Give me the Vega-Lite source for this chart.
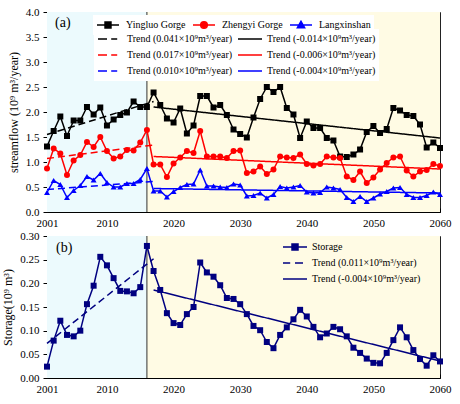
{
  "$schema": "https://vega.github.io/schema/vega-lite/v6.json",
  "padding": {"left": 1, "top": 5, "right": 5, "bottom": 5},
  "background": "white",
  "config": {
    "font": "Liberation Serif",
    "view": {"stroke": "#222", "strokeWidth": 1},
    "axis": {"labelFont": "Liberation Serif", "labelFontSize": 11, "labelColor": "#000", "titleFont": "Liberation Serif", "titleFontSize": 12, "titleFontWeight": "normal", "titleColor": "#000", "domainColor": "#000", "tickColor": "#000", "grid": false, "tickSize": 4, "labelPadding": 4},
    "legend": {"labelFont": "Liberation Serif", "labelFontSize": 10, "labelColor": "#000", "title": null},
    "title": {"font": "Liberation Serif", "fontSize": 14, "fontWeight": "normal", "color": "#000"}
  },
  "datasets": {
    "periods": [
      {"period": "hist", "start": 2001, "end": 2016},
      {"period": "future", "start": 2016, "end": 2060}
    ],
    "flow": [
      {"year": 2001, "Yingluo Gorge": 1.31, "Zhengyi Gorge": 0.87, "Langxinshan": 0.39},
      {"year": 2002, "Yingluo Gorge": 1.62, "Zhengyi Gorge": 1.27, "Langxinshan": 0.63},
      {"year": 2003, "Yingluo Gorge": 1.91, "Zhengyi Gorge": 1.17, "Langxinshan": 0.55},
      {"year": 2004, "Yingluo Gorge": 1.52, "Zhengyi Gorge": 0.74, "Langxinshan": 0.29},
      {"year": 2005, "Yingluo Gorge": 1.83, "Zhengyi Gorge": 1.03, "Langxinshan": 0.43},
      {"year": 2006, "Yingluo Gorge": 1.83, "Zhengyi Gorge": 1.14, "Langxinshan": 0.53},
      {"year": 2007, "Yingluo Gorge": 2.10, "Zhengyi Gorge": 1.40, "Langxinshan": 0.71},
      {"year": 2008, "Yingluo Gorge": 1.95, "Zhengyi Gorge": 1.30, "Langxinshan": 0.64},
      {"year": 2009, "Yingluo Gorge": 2.09, "Zhengyi Gorge": 1.50, "Langxinshan": 0.77},
      {"year": 2010, "Yingluo Gorge": 1.73, "Zhengyi Gorge": 1.22, "Langxinshan": 0.59},
      {"year": 2011, "Yingluo Gorge": 1.85, "Zhengyi Gorge": 1.07, "Langxinshan": 0.50},
      {"year": 2012, "Yingluo Gorge": 1.94, "Zhengyi Gorge": 1.11, "Langxinshan": 0.50},
      {"year": 2013, "Yingluo Gorge": 1.99, "Zhengyi Gorge": 1.24, "Langxinshan": 0.57},
      {"year": 2014, "Yingluo Gorge": 2.21, "Zhengyi Gorge": 1.23, "Langxinshan": 0.57},
      {"year": 2015, "Yingluo Gorge": 2.10, "Zhengyi Gorge": 1.39, "Langxinshan": 0.65},
      {"year": 2016, "Yingluo Gorge": 2.10, "Zhengyi Gorge": 1.64, "Langxinshan": 0.87},
      {"year": 2017, "Yingluo Gorge": 2.39, "Zhengyi Gorge": 0.95, "Langxinshan": 0.42},
      {"year": 2018, "Yingluo Gorge": 2.14, "Zhengyi Gorge": 0.95, "Langxinshan": 0.42},
      {"year": 2019, "Yingluo Gorge": 1.87, "Zhengyi Gorge": 0.70, "Langxinshan": 0.30},
      {"year": 2020, "Yingluo Gorge": 1.79, "Zhengyi Gorge": 0.97, "Langxinshan": 0.41},
      {"year": 2021, "Yingluo Gorge": 2.07, "Zhengyi Gorge": 1.09, "Langxinshan": 0.49},
      {"year": 2022, "Yingluo Gorge": 1.57, "Zhengyi Gorge": 1.22, "Langxinshan": 0.55},
      {"year": 2023, "Yingluo Gorge": 1.73, "Zhengyi Gorge": 1.18, "Langxinshan": 0.56},
      {"year": 2024, "Yingluo Gorge": 2.32, "Zhengyi Gorge": 1.62, "Langxinshan": 0.84},
      {"year": 2025, "Yingluo Gorge": 2.32, "Zhengyi Gorge": 1.11, "Langxinshan": 0.52},
      {"year": 2026, "Yingluo Gorge": 2.09, "Zhengyi Gorge": 1.11, "Langxinshan": 0.52},
      {"year": 2027, "Yingluo Gorge": 2.14, "Zhengyi Gorge": 1.11, "Langxinshan": 0.50},
      {"year": 2028, "Yingluo Gorge": 1.94, "Zhengyi Gorge": 1.08, "Langxinshan": 0.49},
      {"year": 2029, "Yingluo Gorge": 1.65, "Zhengyi Gorge": 1.22, "Langxinshan": 0.56},
      {"year": 2030, "Yingluo Gorge": 1.56, "Zhengyi Gorge": 1.23, "Langxinshan": 0.54},
      {"year": 2031, "Yingluo Gorge": 1.49, "Zhengyi Gorge": 0.78, "Langxinshan": 0.32},
      {"year": 2032, "Yingluo Gorge": 1.89, "Zhengyi Gorge": 0.81, "Langxinshan": 0.33},
      {"year": 2033, "Yingluo Gorge": 2.26, "Zhengyi Gorge": 0.91, "Langxinshan": 0.38},
      {"year": 2034, "Yingluo Gorge": 2.50, "Zhengyi Gorge": 0.76, "Langxinshan": 0.28},
      {"year": 2035, "Yingluo Gorge": 2.40, "Zhengyi Gorge": 0.85, "Langxinshan": 0.35},
      {"year": 2036, "Yingluo Gorge": 2.50, "Zhengyi Gorge": 1.11, "Langxinshan": 0.51},
      {"year": 2037, "Yingluo Gorge": 2.08, "Zhengyi Gorge": 1.09, "Langxinshan": 0.48},
      {"year": 2038, "Yingluo Gorge": 1.95, "Zhengyi Gorge": 1.08, "Langxinshan": 0.50},
      {"year": 2039, "Yingluo Gorge": 1.48, "Zhengyi Gorge": 1.15, "Langxinshan": 0.53},
      {"year": 2040, "Yingluo Gorge": 1.81, "Zhengyi Gorge": 0.96, "Langxinshan": 0.40},
      {"year": 2041, "Yingluo Gorge": 1.68, "Zhengyi Gorge": 0.93, "Langxinshan": 0.38},
      {"year": 2042, "Yingluo Gorge": 1.68, "Zhengyi Gorge": 0.96, "Langxinshan": 0.39},
      {"year": 2043, "Yingluo Gorge": 1.48, "Zhengyi Gorge": 1.11, "Langxinshan": 0.50},
      {"year": 2044, "Yingluo Gorge": 1.43, "Zhengyi Gorge": 1.09, "Langxinshan": 0.48},
      {"year": 2045, "Yingluo Gorge": 1.11, "Zhengyi Gorge": 1.08, "Langxinshan": 0.45},
      {"year": 2046, "Yingluo Gorge": 1.10, "Zhengyi Gorge": 0.71, "Langxinshan": 0.29},
      {"year": 2047, "Yingluo Gorge": 1.15, "Zhengyi Gorge": 0.64, "Langxinshan": 0.21},
      {"year": 2048, "Yingluo Gorge": 1.25, "Zhengyi Gorge": 0.81, "Langxinshan": 0.31},
      {"year": 2049, "Yingluo Gorge": 1.60, "Zhengyi Gorge": 0.58, "Langxinshan": 0.21},
      {"year": 2050, "Yingluo Gorge": 1.72, "Zhengyi Gorge": 0.69, "Langxinshan": 0.28},
      {"year": 2051, "Yingluo Gorge": 1.58, "Zhengyi Gorge": 0.85, "Langxinshan": 0.36},
      {"year": 2052, "Yingluo Gorge": 1.66, "Zhengyi Gorge": 0.98, "Langxinshan": 0.41},
      {"year": 2053, "Yingluo Gorge": 2.08, "Zhengyi Gorge": 1.09, "Langxinshan": 0.48},
      {"year": 2054, "Yingluo Gorge": 2.03, "Zhengyi Gorge": 1.11, "Langxinshan": 0.49},
      {"year": 2055, "Yingluo Gorge": 1.94, "Zhengyi Gorge": 0.83, "Langxinshan": 0.35},
      {"year": 2056, "Yingluo Gorge": 1.92, "Zhengyi Gorge": 0.71, "Langxinshan": 0.29},
      {"year": 2057, "Yingluo Gorge": 1.75, "Zhengyi Gorge": 0.81, "Langxinshan": 0.29},
      {"year": 2058, "Yingluo Gorge": 1.29, "Zhengyi Gorge": 0.84, "Langxinshan": 0.33},
      {"year": 2059, "Yingluo Gorge": 1.39, "Zhengyi Gorge": 0.96, "Langxinshan": 0.40},
      {"year": 2060, "Yingluo Gorge": 1.28, "Zhengyi Gorge": 0.92, "Langxinshan": 0.35}
    ],
    "storage": [
      {"year": 2001, "Storage": 0.024}, {"year": 2002, "Storage": 0.079}, {"year": 2003, "Storage": 0.121},
      {"year": 2004, "Storage": 0.091}, {"year": 2005, "Storage": 0.088}, {"year": 2006, "Storage": 0.100},
      {"year": 2007, "Storage": 0.156}, {"year": 2008, "Storage": 0.195}, {"year": 2009, "Storage": 0.256},
      {"year": 2010, "Storage": 0.238}, {"year": 2011, "Storage": 0.211}, {"year": 2012, "Storage": 0.184},
      {"year": 2013, "Storage": 0.183}, {"year": 2014, "Storage": 0.179}, {"year": 2015, "Storage": 0.192},
      {"year": 2016, "Storage": 0.279}, {"year": 2017, "Storage": 0.226}, {"year": 2018, "Storage": 0.186},
      {"year": 2019, "Storage": 0.137}, {"year": 2020, "Storage": 0.116}, {"year": 2021, "Storage": 0.112},
      {"year": 2022, "Storage": 0.135}, {"year": 2023, "Storage": 0.150}, {"year": 2024, "Storage": 0.244},
      {"year": 2025, "Storage": 0.223}, {"year": 2026, "Storage": 0.214}, {"year": 2027, "Storage": 0.196},
      {"year": 2028, "Storage": 0.169}, {"year": 2029, "Storage": 0.167}, {"year": 2030, "Storage": 0.156},
      {"year": 2031, "Storage": 0.135}, {"year": 2032, "Storage": 0.110}, {"year": 2033, "Storage": 0.101},
      {"year": 2034, "Storage": 0.076}, {"year": 2035, "Storage": 0.063}, {"year": 2036, "Storage": 0.091},
      {"year": 2037, "Storage": 0.107}, {"year": 2038, "Storage": 0.124}, {"year": 2039, "Storage": 0.144},
      {"year": 2040, "Storage": 0.130}, {"year": 2041, "Storage": 0.108}, {"year": 2042, "Storage": 0.086},
      {"year": 2043, "Storage": 0.094}, {"year": 2044, "Storage": 0.108}, {"year": 2045, "Storage": 0.103},
      {"year": 2046, "Storage": 0.088}, {"year": 2047, "Storage": 0.064}, {"year": 2048, "Storage": 0.053},
      {"year": 2049, "Storage": 0.041}, {"year": 2050, "Storage": 0.032}, {"year": 2051, "Storage": 0.031},
      {"year": 2052, "Storage": 0.053}, {"year": 2053, "Storage": 0.080}, {"year": 2054, "Storage": 0.107},
      {"year": 2055, "Storage": 0.086}, {"year": 2056, "Storage": 0.059}, {"year": 2057, "Storage": 0.040},
      {"year": 2058, "Storage": 0.026}, {"year": 2059, "Storage": 0.048}, {"year": 2060, "Storage": 0.035}
    ],
    "trends": [
      {"panel": "a", "key": "Trend (0.041×10⁹m³/year)", "year": 2001, "value": 1.55},
      {"panel": "a", "key": "Trend (0.041×10⁹m³/year)", "year": 2017, "value": 2.21},
      {"panel": "a", "key": "Trend (-0.014×10⁹m³/year)", "year": 2017, "value": 2.10},
      {"panel": "a", "key": "Trend (-0.014×10⁹m³/year)", "year": 2060, "value": 1.48},
      {"panel": "a", "key": "Trend (0.017×10⁹m³/year)", "year": 2001, "value": 1.07},
      {"panel": "a", "key": "Trend (0.017×10⁹m³/year)", "year": 2017, "value": 1.34},
      {"panel": "a", "key": "Trend (-0.006×10⁹m³/year)", "year": 2017, "value": 1.11},
      {"panel": "a", "key": "Trend (-0.006×10⁹m³/year)", "year": 2060, "value": 0.86},
      {"panel": "a", "key": "Trend (0.010×10⁹m³/year)", "year": 2001, "value": 0.45},
      {"panel": "a", "key": "Trend (0.010×10⁹m³/year)", "year": 2017, "value": 0.61},
      {"panel": "a", "key": "Trend (-0.004×10⁹m³/year)", "year": 2017, "value": 0.47},
      {"panel": "a", "key": "Trend (-0.004×10⁹m³/year)", "year": 2060, "value": 0.38},
      {"panel": "b", "key": "Trend (0.011×10⁹m³/year)", "year": 2001, "value": 0.073},
      {"panel": "b", "key": "Trend (0.011×10⁹m³/year)", "year": 2017, "value": 0.252},
      {"panel": "b", "key": "Trend (-0.004×10⁹m³/year)", "year": 2017, "value": 0.186},
      {"panel": "b", "key": "Trend (-0.004×10⁹m³/year)", "year": 2060, "value": 0.036}
    ]
  },
  "vconcat": [
    {
      "width": 393,
      "height": 200,
      "title": {"text": "(a)", "orient": "top", "anchor": "start", "frame": "group", "offset": -24, "dx": 8},
      "layer": [
        {
          "data": {"name": "periods"},
          "mark": {"type": "rect"},
          "encoding": {
            "x": {"field": "start", "type": "quantitative", "title": null,
              "scale": {"domain": [2001, 2060], "nice": false, "zero": false},
              "axis": {"values": [2001, 2005, 2010, 2015, 2020, 2025, 2030, 2035, 2040, 2045, 2050, 2055, 2060],
                "labelExpr": "(datum.value % 10 == 0 || datum.value == 2001) ? '' + datum.value : ''",
                "labelFlush": false, "labelOverlap": false, "tickSize": -4, "labelPadding": 9}},
            "x2": {"field": "end"},
            "fill": {"field": "period", "type": "nominal", "scale": {"domain": ["hist", "future"], "range": ["#ECFAFD", "#FFFBE4"]}, "legend": null}
          }
        },
        {
          "data": {"name": "periods"},
          "transform": [{"filter": "datum.period == 'future'"}],
          "mark": {"type": "rule", "color": "#333", "strokeWidth": 1},
          "encoding": {"x": {"field": "start", "type": "quantitative", "title": null}}
        },
        {
          "data": {"name": "trends"},
          "transform": [{"filter": "datum.panel == 'a'"}],
          "mark": {"type": "line", "strokeWidth": 1.5},
          "encoding": {
            "x": {"field": "year", "type": "quantitative", "title": null},
            "y": {"field": "value", "type": "quantitative", "title": "streamflow (10⁹ m³/year)",
              "scale": {"domain": [0, 4], "nice": false},
              "axis": {"values": [0, 0.5, 1, 1.5, 2, 2.5, 3, 3.5, 4], "format": ".1f", "titlePadding": 5, "labelOverlap": false}},
            "color": {"field": "key", "type": "nominal",
              "scale": {"domain": ["Trend (0.041×10⁹m³/year)", "Trend (-0.014×10⁹m³/year)", "Trend (0.017×10⁹m³/year)", "Trend (-0.006×10⁹m³/year)", "Trend (0.010×10⁹m³/year)", "Trend (-0.004×10⁹m³/year)"],
                "range": ["#000000", "#000000", "#FF0000", "#FF0000", "#0000FF", "#0000FF"]},
              "legend": {"orient": "none", "legendX": 47, "legendY": 17, "direction": "horizontal", "columns": 2, "columnPadding": 4, "rowPadding": 2, "clipHeight": 14,
                "fillColor": "white", "padding": 3, "symbolSize": 576, "labelOffset": 4, "symbolStrokeWidth": 1.5,
                "encode": {"symbols": {"update": {
                  "shape": {"signal": "indexof(datum.value, '-') >= 0 ? 'M-1,0H1' : 'M-1,0H-0.25M0.1,0H0.6'"},
                  "stroke": {"signal": "indexof(datum.value, '0.041') >= 0 || indexof(datum.value, '0.014') >= 0 ? '#000000' : (indexof(datum.value, '0.017') >= 0 || indexof(datum.value, '0.006') >= 0 ? '#FF0000' : '#0000FF')"},
                  "fill": {"value": "transparent"},
                  "strokeDash": {"value": []},
                  "strokeWidth": {"value": 1.5},
                  "opacity": {"value": 1}}}}}},
            "strokeDash": {"field": "key", "type": "nominal",
              "scale": {"domain": ["Trend (0.041×10⁹m³/year)", "Trend (-0.014×10⁹m³/year)", "Trend (0.017×10⁹m³/year)", "Trend (-0.006×10⁹m³/year)", "Trend (0.010×10⁹m³/year)", "Trend (-0.004×10⁹m³/year)"],
                "range": [[7, 4], [1, 0], [7, 4], [1, 0], [7, 4], [1, 0]]},
              "legend": null}
          }
        },
        {
          "data": {"name": "flow"},
          "transform": [{"fold": ["Yingluo Gorge", "Zhengyi Gorge", "Langxinshan"], "as": ["key", "value"]}],
          "encoding": {
            "x": {"field": "year", "type": "quantitative", "title": null},
            "y": {"field": "value", "type": "quantitative", "title": "streamflow (10⁹ m³/year)",
              "scale": {"domain": [0, 4], "nice": false},
              "axis": {"values": [0, 0.5, 1, 1.5, 2, 2.5, 3, 3.5, 4], "format": ".1f", "titlePadding": 5, "labelOverlap": false}},
            "color": {"field": "key", "type": "nominal",
              "scale": {"domain": ["Yingluo Gorge", "Zhengyi Gorge", "Langxinshan"], "range": ["#000000", "#FF0000", "#0000FF"]},
              "legend": {"orient": "none", "legendX": 46, "legendY": 3, "direction": "horizontal", "columns": 3, "columnPadding": 6, "clipHeight": 14,
                "fillColor": "white", "padding": 3, "symbolSize": 484, "labelOffset": 6,
                "encode": {"symbols": {"update": {
                  "shape": {"signal": "datum.value === 'Yingluo Gorge' ? 'M-1,0H1M-0.27,-0.27H0.27V0.27H-0.27Z' : (datum.value === 'Zhengyi Gorge' ? 'M-1,0H1M0.3,0A0.3,0.3 0 1 1 -0.3,0A0.3,0.3 0 1 1 0.3,0Z' : 'M-1,0H1M0,-0.34L0.33,0.24H-0.33Z')"},
                  "fill": {"signal": "datum.value === 'Yingluo Gorge' ? '#000000' : (datum.value === 'Zhengyi Gorge' ? '#FF0000' : '#0000FF')"},
                  "stroke": {"signal": "datum.value === 'Yingluo Gorge' ? '#000000' : (datum.value === 'Zhengyi Gorge' ? '#FF0000' : '#0000FF')"},
                  "strokeWidth": {"value": 1.5},
                  "opacity": {"value": 1}}}}}}
          },
          "layer": [
            {"mark": {"type": "line", "strokeWidth": 1.5}},
            {"mark": {"type": "point", "filled": true, "size": 36, "opacity": 1},
             "encoding": {"shape": {"field": "key", "type": "nominal",
               "scale": {"domain": ["Yingluo Gorge", "Zhengyi Gorge", "Langxinshan"], "range": ["square", "circle", "triangle-up"]}, "legend": null}}}
          ]
        }
      ],
      "resolve": {"scale": {"color": "independent"}}
    },
    {
      "width": 393,
      "height": 142,
      "title": {"text": "(b)", "orient": "top", "anchor": "start", "frame": "group", "offset": -25, "dx": 9},
      "layer": [
        {
          "data": {"name": "periods"},
          "mark": {"type": "rect"},
          "encoding": {
            "x": {"field": "start", "type": "quantitative", "title": null,
              "scale": {"domain": [2001, 2060], "nice": false, "zero": false},
              "axis": {"values": [2001, 2005, 2010, 2015, 2020, 2025, 2030, 2035, 2040, 2045, 2050, 2055, 2060],
                "labelExpr": "(datum.value % 10 == 0 || datum.value == 2001) ? '' + datum.value : ''",
                "labelFlush": false, "labelOverlap": false, "tickSize": -4, "labelPadding": 9}},
            "x2": {"field": "end"},
            "fill": {"field": "period", "type": "nominal", "scale": {"domain": ["hist", "future"], "range": ["#ECFAFD", "#FFFBE4"]}, "legend": null}
          }
        },
        {
          "data": {"name": "periods"},
          "transform": [{"filter": "datum.period == 'future'"}],
          "mark": {"type": "rule", "color": "#333", "strokeWidth": 1},
          "encoding": {"x": {"field": "start", "type": "quantitative", "title": null}}
        },
        {
          "data": {"name": "trends"},
          "transform": [{"filter": "datum.panel == 'b'"}],
          "mark": {"type": "line", "strokeWidth": 1.5},
          "encoding": {
            "x": {"field": "year", "type": "quantitative", "title": null},
            "y": {"field": "value", "type": "quantitative", "title": "Storage(10⁹ m³)",
              "scale": {"domain": [0, 0.3], "nice": false},
              "axis": {"values": [0, 0.05, 0.1, 0.15, 0.2, 0.25, 0.3], "format": ".2f", "titlePadding": 5, "labelOverlap": false}},
            "color": {"field": "key", "type": "nominal",
              "scale": {"domain": ["Storage", "Trend (0.011×10⁹m³/year)", "Trend (-0.004×10⁹m³/year)"], "range": ["#000080", "#000080", "#000080"]},
              "legend": {"orient": "none", "legendX": 235, "legendY": 4, "direction": "vertical", "clipHeight": 14, "rowPadding": 2,
                "padding": 0, "symbolSize": 576, "labelOffset": 4,
                "encode": {"symbols": {"update": {
                  "shape": {"signal": "datum.value === 'Storage' ? 'M-1,0H1M-0.25,-0.25H0.25V0.25H-0.25Z' : (indexof(datum.value, '0.011') >= 0 ? 'M-1,0H-0.4M0,0H0.67' : 'M-1,0H1')"},
                  "fill": {"signal": "datum.value === 'Storage' ? '#000080' : 'transparent'"},
                  "stroke": {"value": "#000080"},
                  "strokeDash": {"value": []},
                  "strokeWidth": {"value": 1.5},
                  "opacity": {"value": 1}}}}}},
            "strokeDash": {"field": "key", "type": "nominal",
              "scale": {"domain": ["Trend (0.011×10⁹m³/year)", "Trend (-0.004×10⁹m³/year)"], "range": [[7, 4], [1, 0]]},
              "legend": null}
          }
        },
        {
          "data": {"name": "storage"},
          "transform": [{"fold": ["Storage"], "as": ["key", "value"]}],
          "encoding": {
            "x": {"field": "year", "type": "quantitative", "title": null},
            "y": {"field": "value", "type": "quantitative", "title": "Storage(10⁹ m³)",
              "scale": {"domain": [0, 0.3], "nice": false},
              "axis": {"values": [0, 0.05, 0.1, 0.15, 0.2, 0.25, 0.3], "format": ".2f", "titlePadding": 5, "labelOverlap": false}},
            "color": {"field": "key", "type": "nominal",
              "scale": {"domain": ["Storage", "Trend (0.011×10⁹m³/year)", "Trend (-0.004×10⁹m³/year)"], "range": ["#000080", "#000080", "#000080"]},
              "legend": {"orient": "none", "legendX": 235, "legendY": 4, "direction": "vertical", "clipHeight": 14, "rowPadding": 2,
                "padding": 0, "symbolSize": 576, "labelOffset": 4,
                "encode": {"symbols": {"update": {
                  "shape": {"signal": "datum.value === 'Storage' ? 'M-1,0H1M-0.25,-0.25H0.25V0.25H-0.25Z' : (indexof(datum.value, '0.011') >= 0 ? 'M-1,0H-0.4M0,0H0.67' : 'M-1,0H1')"},
                  "fill": {"signal": "datum.value === 'Storage' ? '#000080' : 'transparent'"},
                  "stroke": {"value": "#000080"},
                  "strokeDash": {"value": []},
                  "strokeWidth": {"value": 1.5},
                  "opacity": {"value": 1}}}}}}
          },
          "layer": [
            {"mark": {"type": "line", "strokeWidth": 1.5}},
            {"mark": {"type": "point", "filled": true, "shape": "square", "size": 36, "opacity": 1}}
          ]
        }
      ]
    }
  ],
  "resolve": {
    "scale": {"color": "independent", "strokeDash": "independent", "shape": "independent", "y": "independent"},
    "legend": {"color": "independent", "strokeDash": "independent", "shape": "independent"}
  },
  "spacing": 24,
  "bounds": "flush"
}
